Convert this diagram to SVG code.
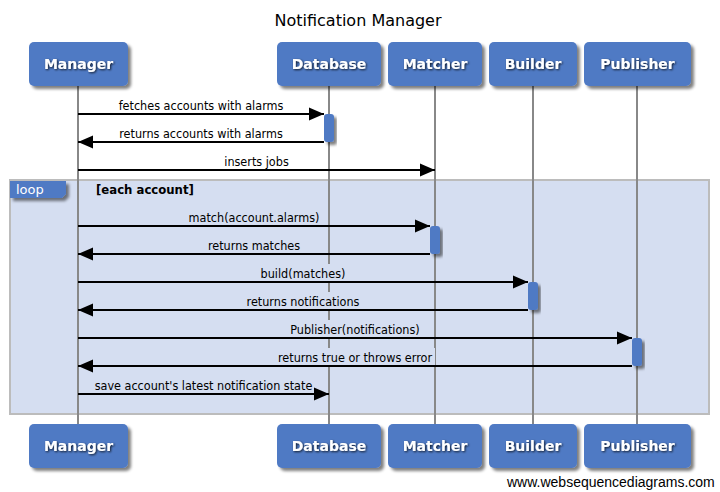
<svg xmlns="http://www.w3.org/2000/svg" width="720" height="492" viewBox="0 0 720 492">
<style>
.box{fill:#507ac4;filter:url(#shadow)}
.act{fill:#507ac4;filter:url(#shadow)}
.plabel{font-family:"DejaVu Sans",sans-serif;font-weight:bold;font-size:14px;fill:#fff;text-anchor:middle;filter:url(#tshadow)}
.life{stroke:#888;stroke-width:2;fill:none}
.msg{stroke:#000;stroke-width:2;fill:none;marker-end:url(#arrow)}
.mtext{font-family:"DejaVu Sans Condensed","DejaVu Sans",sans-serif;font-stretch:condensed;font-size:12.5px;fill:#000;text-anchor:middle}
.lbg{fill:#d5def1}
.wbg{fill:#fff}
</style>
<defs>
<filter id="shadow" x="-30%" y="-30%" width="160%" height="160%">
<feGaussianBlur in="SourceAlpha" stdDeviation="1.5"/>
<feOffset dx="3" dy="3" result="b"/>
<feComponentTransfer><feFuncA type="linear" slope="0.5"/></feComponentTransfer>
<feMerge><feMergeNode/><feMergeNode in="SourceGraphic"/></feMerge>
</filter>
<filter id="tshadow" x="-20%" y="-40%" width="140%" height="180%">
<feGaussianBlur in="SourceAlpha" stdDeviation="0.8"/>
<feOffset dx="1" dy="1" result="b"/>
<feComponentTransfer><feFuncA type="linear" slope="0.8"/></feComponentTransfer>
<feMerge><feMergeNode/><feMergeNode in="SourceGraphic"/></feMerge>
</filter>
<marker id="arrow" markerUnits="userSpaceOnUse" markerWidth="16" markerHeight="14" refX="15" refY="7" orient="auto">
<path d="M0,0.5 L15,7 L0,13.5 Z" fill="#000"/>
</marker>
</defs>
<rect width="720" height="492" fill="#fff"/>
<text x="358" y="26" font-family="DejaVu Sans,sans-serif" font-size="16" text-anchor="middle" fill="#000">Notification Manager</text>

<g id="loop">
<rect x="10" y="180" width="699" height="234" fill="#d5def1" stroke="#bcbcbc" stroke-width="2"/>
</g>

<g id="lifelines">
<line class="life" x1="78" y1="86" x2="78" y2="424"/>
<line class="life" x1="329" y1="86" x2="329" y2="424"/>
<line class="life" x1="435" y1="86" x2="435" y2="424"/>
<line class="life" x1="533" y1="86" x2="533" y2="424"/>
<line class="life" x1="637" y1="86" x2="637" y2="424"/>
</g>

<g id="loop-label">
<path d="M10,181 L66,181 L66,194 L62,198 L10,198 Z" fill="#507ac4" filter="url(#shadow)"/>
<text x="16" y="194" font-family="DejaVu Sans,sans-serif" font-size="13" fill="#fff">loop</text>
<text x="96" y="194" font-family="DejaVu Sans Condensed,DejaVu Sans,sans-serif" font-stretch="condensed" font-weight="bold" font-size="13" fill="#000">[each account]</text>
</g>

<g id="connectors">
<line class="msg" x1="78" y1="114" x2="324" y2="114"/>
<text class="mtext" x="201" y="110">fetches accounts with alarms</text>
<line class="msg" x1="324" y1="142" x2="78" y2="142"/>
<text class="mtext" x="201" y="138">returns accounts with alarms</text>
<line class="msg" x1="78" y1="170" x2="435" y2="170"/>
<text class="mtext" x="256.5" y="166">inserts jobs</text>

<line class="msg" x1="78" y1="226" x2="430" y2="226"/>
<text class="mtext" x="254" y="222">match(account.alarms)</text>
<line class="msg" x1="430" y1="254" x2="78" y2="254"/>
<text class="mtext" x="254" y="250">returns matches</text>

<rect class="lbg" x="260" y="264" width="86" height="17"/>
<line class="msg" x1="78" y1="282" x2="528" y2="282"/>
<text class="mtext" x="303" y="278">build(matches)</text>
<rect class="lbg" x="245" y="292" width="116" height="17"/>
<line class="msg" x1="528" y1="310" x2="78" y2="310"/>
<text class="mtext" x="303" y="306">returns notifications</text>

<rect class="lbg" x="289" y="320" width="132" height="17"/>
<line class="msg" x1="78" y1="338" x2="632" y2="338"/>
<text class="mtext" x="355" y="334">Publisher(notifications)</text>
<rect class="lbg" x="276" y="348" width="159" height="17"/>
<line class="msg" x1="632" y1="366" x2="78" y2="366"/>
<text class="mtext" x="355" y="362">returns true or throws error</text>

<line class="msg" x1="78" y1="394" x2="329" y2="394"/>
<text class="mtext" x="203.5" y="390">save account's latest notification state</text>
</g>

<g id="activations">
<rect class="act" x="324" y="114" width="10" height="28" rx="3"/>
<rect class="act" x="430" y="226" width="10" height="28" rx="3"/>
<rect class="act" x="528" y="282" width="10" height="28" rx="3"/>
<rect class="act" x="632" y="338" width="10" height="28" rx="3"/>
</g>

<g id="manager">
<rect class="box" x="29" y="42" width="99" height="44" rx="5"/>
<text class="plabel" x="78.5" y="69">Manager</text>
<rect class="box" x="29" y="424" width="99" height="44" rx="5"/>
<text class="plabel" x="78.5" y="451">Manager</text>
</g>
<g id="database">
<rect class="box" x="277" y="42" width="104" height="44" rx="5"/>
<text class="plabel" x="329" y="69">Database</text>
<rect class="box" x="277" y="424" width="104" height="44" rx="5"/>
<text class="plabel" x="329" y="451">Database</text>
</g>
<g id="matcher">
<rect class="box" x="388" y="42" width="94" height="44" rx="5"/>
<text class="plabel" x="435" y="69">Matcher</text>
<rect class="box" x="388" y="424" width="94" height="44" rx="5"/>
<text class="plabel" x="435" y="451">Matcher</text>
</g>
<g id="builder">
<rect class="box" x="489" y="42" width="88" height="44" rx="5"/>
<text class="plabel" x="533" y="69">Builder</text>
<rect class="box" x="489" y="424" width="88" height="44" rx="5"/>
<text class="plabel" x="533" y="451">Builder</text>
</g>
<g id="publisher">
<rect class="box" x="584" y="42" width="107" height="44" rx="5"/>
<text class="plabel" x="637.5" y="69">Publisher</text>
<rect class="box" x="584" y="424" width="107" height="44" rx="5"/>
<text class="plabel" x="637.5" y="451">Publisher</text>
</g>

<text x="507" y="487" font-family="Liberation Sans,Arial,sans-serif" font-size="14" fill="#000">www.websequencediagrams.com</text>
</svg>
